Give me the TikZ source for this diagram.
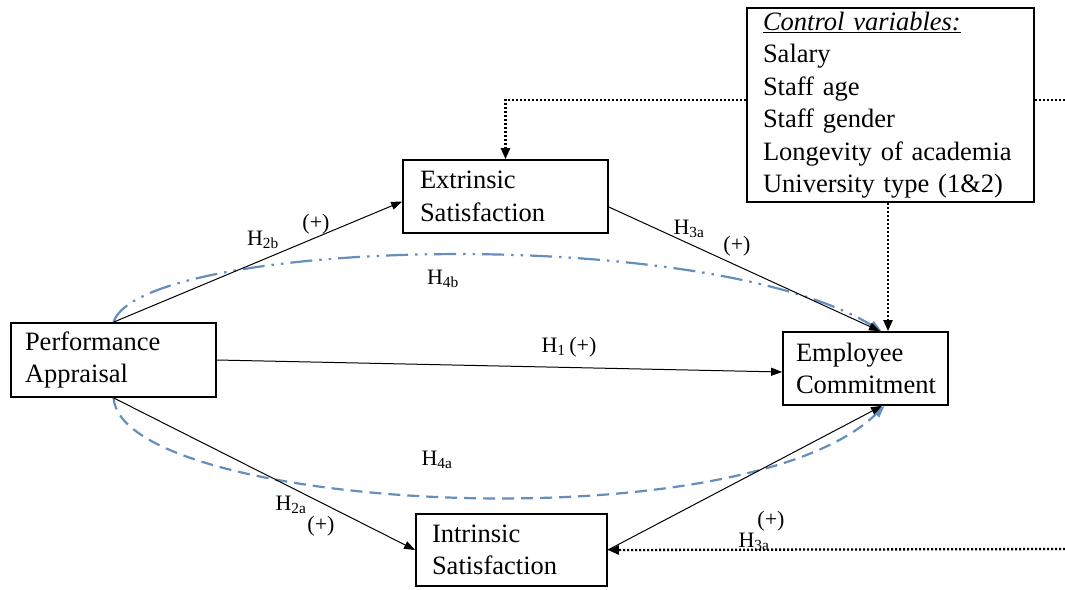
\documentclass[tikz,border=0pt]{standalone}
\usepackage{fontspec}
\setmainfont{Liberation Serif}
\usetikzlibrary{arrows.meta}
\definecolor{curveblue}{RGB}{100,142,188}
\tikzset{
  box/.style={draw, line width=1.7pt, align=left, inner xsep=15pt, inner ysep=2pt,
    font=\fontsize{26.5}{32.5}\selectfont},
  lab/.style={font=\fontsize{22}{25}\selectfont, inner sep=0pt},
  solidarrow/.style={line width=1pt, -{Triangle[length=11pt,width=8pt]}},
  ctrl/.style={line width=2.3pt, dash pattern=on 2pt off 2pt},
  ctrlarrow/.style={ctrl, -{Triangle[length=11pt,width=9pt]}},
  medarrow/.style={line width=2.2pt, curveblue, -{Triangle[length=12pt,width=9pt]}},
  hfourb/.style={medarrow, dash pattern=on 22pt off 7pt on 2.5pt off 7pt on 2.5pt off 7pt},
  hfoura/.style={medarrow, dash pattern=on 12pt off 7pt},
}
\begin{document}
\begin{tikzpicture}[x=1pt,y=-1pt]
\useasboundingbox (0,0) rectangle (1065,589);

\node[box, minimum width=205pt, minimum height=74pt, text width=177pt, inner xsep=14pt] (pa) at (113.5,360) {Performance\\Appraisal};
\node[box, minimum width=205pt, minimum height=73pt, text width=171pt, inner xsep=17pt] (es) at (505.5,196.5) {Extrinsic\\Satisfaction};
\node[box, minimum width=191pt, minimum height=72pt, text width=159pt, inner xsep=16pt] (is) at (511.5,550) {Intrinsic\\Satisfaction};
\node[box, minimum width=165pt, minimum height=73pt, text width=139pt, inner xsep=13pt] (ec) at (865.5,368.5) {Employee\\Commitment};
\node[box, minimum width=287pt, minimum height=194pt, text width=255pt, inner xsep=16pt] (cv) at (890.5,105)
  {\underline{\textit{Control variables:}}\\Salary\\Staff age\\Staff gender\\Longevity of academia\\University type (1\&2)};

\coordinate (rt) at (1065,100);
\coordinate (rb) at (1065,549);

% blue mediation curves
\draw[hfourb] (pa.north) .. controls (140,240) and (700,222) .. ([xshift=16pt]ec.north);
\draw[hfoura] (pa.south) .. controls (122,510) and (740,546) .. ([xshift=19pt]ec.south);

% direct effects
\draw[solidarrow] (pa.north) -- ([yshift=-5pt]es.west);
\draw[solidarrow] (pa.east) -- ([yshift=-3.5pt]ec.west);
\draw[solidarrow] (pa.south) -- (is.west);
\draw[solidarrow] ([yshift=-10.5pt]es.east) -- ([xshift=14.5pt]ec.north);
\draw[solidarrow] (is.east) -- ([xshift=16.5pt]ec.south);

% control variable links
\draw[ctrlarrow] ([yshift=5pt]cv.west) -| (es.north);
\draw[ctrl] ([yshift=5pt]cv.east) -- (rt);
\draw[ctrlarrow] (rb) -- (is.east);
\draw[ctrlarrow] ([xshift=-2.5pt]cv.south) -- ([xshift=22.5pt]ec.north);

% labels
\node[lab] (h2b) at (263,240) {H\textsubscript{2b}};
\node[lab] (p2b) at (316,224) {(+)};
\node[lab] (h3u) at (689,229) {H\textsubscript{3a}};
\node[lab] (p3u) at (737,246) {(+)};
\node[lab] (h4b) at (443,279) {H\textsubscript{4b}};
\node[lab] (h1) at (569,347) {H\textsubscript{1}\,(+)};
\node[lab] (h4a) at (437,460) {H\textsubscript{4a}};
\node[lab] (h2a) at (291,505) {H\textsubscript{2a}};
\node[lab] (p2a) at (321,526) {(+)};
\node[lab] (h3l) at (754,542) {H\textsubscript{3a}};
\node[lab] (p3l) at (771,521) {(+)};
\end{tikzpicture}
\end{document}
